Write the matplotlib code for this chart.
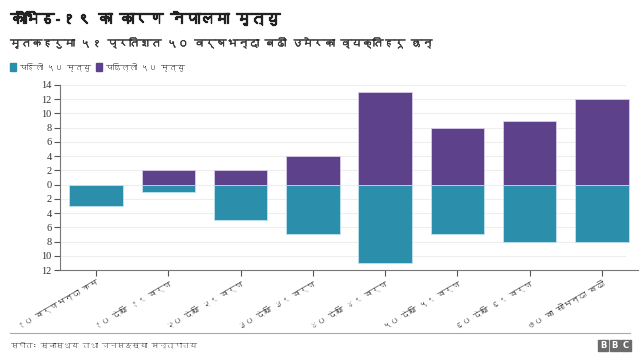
import matplotlib
matplotlib.use("Agg")
import matplotlib.pyplot as plt
import matplotlib.patheffects as pe
from matplotlib import font_manager
from matplotlib.ft2font import FT2Font
from matplotlib.patches import Rectangle

# ---- data ----
categories = ["१० वर्षभन्दा कम", "१० देखि १९ वर्ष", "२० देखि २९ वर्ष", "३० देखि ३९ वर्ष",
              "४० देखि ४९ वर्ष", "५० देखि ५९ वर्ष", "६० देखि ६९ वर्ष", "७० वा सोभन्दा बढी"]
first_50 = [3, 1, 5, 7, 11, 7, 8, 8]
last_50 = [0, 2, 2, 4, 13, 8, 9, 12]
series_names = ["पहिलो ५० मृत्यु", "पछिल्लो ५० मृत्यु"]
title = "कोभिड-१९ का कारण नेपालमा मृत्यु"
subtitle = "मृतकहरुमा ५१ प्रतिशत ५० वर्षभन्दा बढी उमेरका व्यक्तिहरू छन्"
source = "स्रोत: स्वास्थ्य तथा जनसङ्ख्या मन्त्रालय"
yticks = list(range(-12, 15, 2))

TEAL = "#2b8fab"
PURPLE = "#5e418b"

# find a font with Devanagari
deva = None
for f in font_manager.fontManager.ttflist:
    try:
        ft = FT2Font(f.fname)
        if 0x0915 in ft.get_charmap():
            deva = f.name
            break
    except Exception:
        pass
fams = ([deva] if deva else []) + ["DejaVu Sans"]
plt.rcParams["font.family"] = fams

fig = plt.figure(figsize=(6.4, 3.59), dpi=100)
ax = fig.add_axes([60/640, 1-270/359, 578/640, 185/359])

x = list(range(len(categories)))
w = 0.74
ax.bar(x, [-v for v in first_50], width=w, color=TEAL, edgecolor="#bfe3ee", linewidth=0.6, zorder=3)
ax.bar(x, last_50, width=w, color=PURPLE, edgecolor="#d9cdea", linewidth=0.6, zorder=3)

ax.set_xlim(-0.5, 7.5)
ax.set_ylim(-12, 14)
ax.set_yticks(yticks)
ax.set_yticklabels([str(abs(t)) for t in yticks], family="Liberation Serif", fontsize=7.5, color="#333333")
for t in yticks:
    ax.plot([-0.5, 7.32], [t, t], color="#eeeeee", linewidth=0.8, zorder=1)
ax.set_xticks(x)
ax.set_xticklabels(categories, rotation=30, ha="right", rotation_mode="anchor", fontsize=6, color="#222222")
ax.tick_params(axis="both", length=4, color="#555555", width=0.8, pad=2)
for s in ["top", "right"]:
    ax.spines[s].set_visible(False)
for s in ["left", "bottom"]:
    ax.spines[s].set_color("#777777")
    ax.spines[s].set_linewidth(0.8)

fig.text(10/640, 1-18/359, title, fontsize=10.5, fontweight="bold", color="#222222", va="center",
         path_effects=[pe.withStroke(linewidth=0.9, foreground="#222222")])
fig.text(10/640, 1-43/359, subtitle, fontsize=7.8, color="#333333", va="center",
         path_effects=[pe.withStroke(linewidth=0.3, foreground="#333333")])

# legend
lx = 10
for name, col in zip(series_names, [TEAL, PURPLE]):
    fig.patches.append(Rectangle((lx/640, 1-71/359), 6/640, 8/359, transform=fig.transFigure, color=col))
    t = fig.text((lx+9)/640, 1-67/359, name, fontsize=5.8, color="#333333", va="center")
    fig.canvas.draw()
    bb = t.get_window_extent()
    lx = bb.x1 + 5

# footer
fig.add_artist(plt.Line2D([10/640, 630/640], [1-333/359, 1-333/359], transform=fig.transFigure, color="#aaaaaa", linewidth=0.8))
fig.text(10/640, 1-345/359, source, fontsize=5.5, color="#333333", va="center")
for i, ch in enumerate("BBC"):
    bx = 598 + i * 11.5
    fig.patches.append(Rectangle((bx/640, 1-351/359), 10/640, 11/359, transform=fig.transFigure, color="#6b6b6b"))
    fig.text((bx+5)/640, 1-345.5/359, ch, fontsize=6, fontweight="bold", color="white", ha="center", va="center", family="DejaVu Sans")

fig.savefig("out.png", dpi=100, facecolor="white")
